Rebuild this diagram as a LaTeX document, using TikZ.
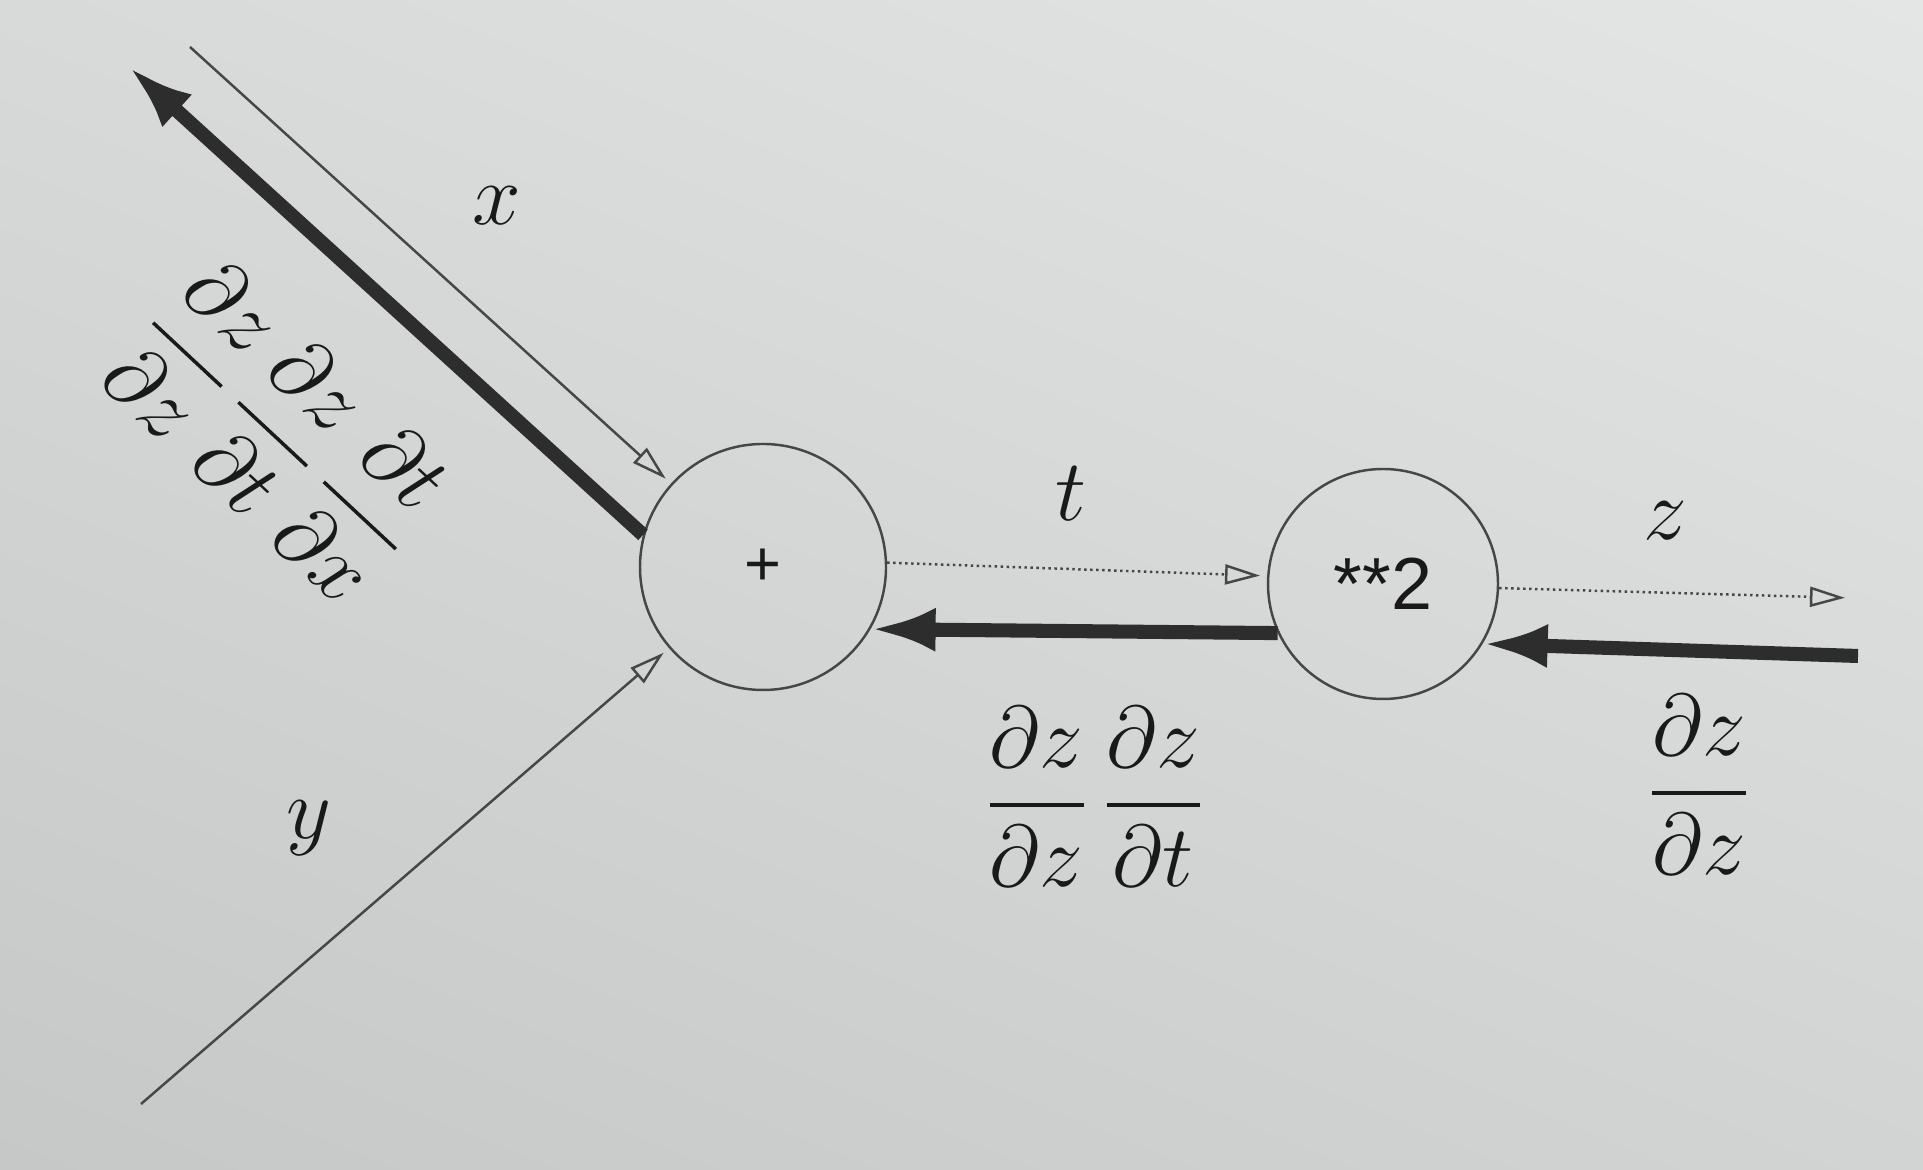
\documentclass[tikz,border=0pt]{standalone}
\usepackage{amsmath}
\usepackage{fontspec}
\setsansfont{Liberation Sans}
\usetikzlibrary{arrows.meta, shadings}

\definecolor{paperA}{RGB}{216,218,217}
\definecolor{paperB}{RGB}{228,230,230}
\definecolor{paperC}{RGB}{198,200,199}
\definecolor{paperD}{RGB}{210,212,211}
\definecolor{ink}{RGB}{70,70,70}
\definecolor{heavy}{RGB}{45,45,45}
\definecolor{txt}{RGB}{25,25,25}

\begin{document}
\begin{tikzpicture}[auto, text=txt,
  op node/.style={circle, draw=ink, line width=0.7pt, inner sep=0pt, font=\sffamily},
  fwd/.style={-{Triangle[open, length=0.35cm, width=0.2cm]}, draw=ink, line width=0.7pt, shorten >=2pt},
  fwd dot/.style={fwd, densely dotted},
  bwd/.style={-{Latex[length=0.65cm, width=0.44cm]}, draw=heavy, line width=4pt},
  lbl/.style={font=\fontsize{24}{29}\selectfont}]

  % paper
  \useasboundingbox (0,0) rectangle (19.23,11.70);
  \shade[upper left=paperA, upper right=paperB, lower left=paperC, lower right=paperD] (0,0) rectangle (19.23,11.70);

  % Define nodes
  \node[op node, minimum size=2.46cm, font=\sffamily\fontsize{18}{20}\selectfont] (plus) at (7.63,6.03) {+};
  \node[op node, minimum size=2.30cm, font=\sffamily\fontsize{21}{24}\selectfont] (sq) at (13.83,5.86) {**2};

  % free ends
  \coordinate (xin) at (1.90,11.23);
  \coordinate (xback) at (1.29,11.03);
  \coordinate (yin) at (1.41,0.66);
  \coordinate (zout) at (18.52,5.72);
  \coordinate (zback) at (18.58,5.14);

  % forward edges
  \path
    (xin) edge[fwd] (plus)
    (yin) edge[fwd] (plus)
    (plus.2) edge[fwd dot] (sq.176)
    (sq.-2) edge[fwd dot] (zout);

  % backward edges
  \path
    (plus.165) edge[bwd] (xback)
    (sq.205) edge[bwd] (plus.-30)
    (zback) edge[bwd] (sq.-31);

  % labels
  \node[lbl] (lx) at (4.97,9.64) {$x$};
  \node[lbl] (ly) at (3.09,3.42) {$y$};
  \node[lbl] (lt) at (10.71,6.76) {$t$};
  \node[lbl] (lz) at (16.65,6.49) {$z$};
  \node[lbl, rotate=-43] (gx) at (2.80,7.40) {$\dfrac{\partial z}{\partial z}\,\dfrac{\partial z}{\partial t}\,\dfrac{\partial t}{\partial x}$};
  \node[lbl] (gt) at (10.95,3.73) {$\dfrac{\partial z}{\partial z}\,\dfrac{\partial z}{\partial t}$};
  \node[lbl] (gz) at (16.99,3.85) {$\dfrac{\partial z}{\partial z}$};
\end{tikzpicture}
\end{document}
